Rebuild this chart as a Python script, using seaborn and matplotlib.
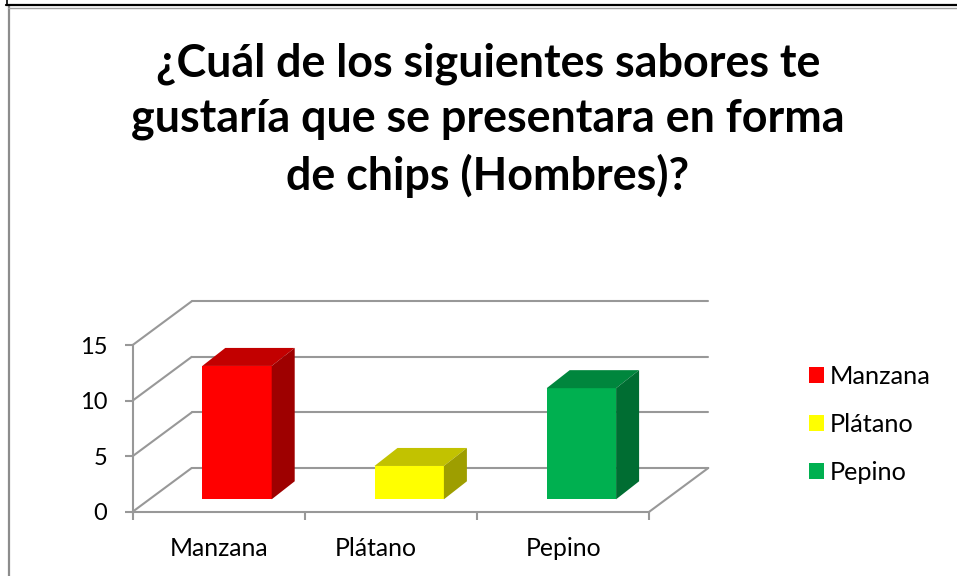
import matplotlib
matplotlib.use("Agg")
import matplotlib.pyplot as plt
from matplotlib.colors import to_rgb
from matplotlib.lines import Line2D
from matplotlib.patches import Polygon
import pandas as pd
import seaborn as sns

W, H = 957, 576

title = "¿Cuál de los siguientes sabores te\ngustaría que se presentara en forma\nde chips (Hombres)?"
sabores = ["Manzana", "Plátano", "Pepino"]
valores = [12, 3, 10]
colores = ["#FF0000", "#FFFF00", "#00B050"]
yticks = [0, 5, 10, 15]

GREY = "#989898"


def px_axes(fig, left, right, top, bottom):
    # axes position given in image pixels
    return fig.add_axes([left / W, 1 - bottom / H, (right - left) / W, (bottom - top) / H])


def shade(color, f):
    return tuple(c * f for c in to_rgb(color))


sns.set_theme(style="white")
plt.rcParams["font.family"] = ["Lato", "DejaVu Sans"]

fig = plt.figure(figsize=(W / 100, H / 100), dpi=100, facecolor="white")

# outer frame of the pasted chart
fig.add_artist(Line2D([8.5 / W, 8.5 / W], [0, 1 - 6 / H], color="#8c8c8c", lw=1.6))
fig.add_artist(Line2D([8 / W, 1], [1 - 7.5 / H, 1 - 7.5 / H], color="#a0a0a0", lw=1))
fig.add_artist(Line2D([6 / W, 1], [1 - 5 / H, 1 - 5 / H], color="black", lw=1.6))
fig.add_artist(Line2D([6.5 / W, 6.5 / W], [1 - 5 / H, 1], color="black", lw=1.2))

# front plane of the chart, carries the axes and ticks
ax = px_axes(fig, 132.7, 649.3, 345, 511.7)
ax.set_xlim(-0.5, 2.5)
ax.set_ylim(0, 15)
ax.patch.set_alpha(0)
for side in ["top", "right"]:
    ax.spines[side].set_visible(False)
for side in ["left", "bottom"]:
    ax.spines[side].set_color(GREY)
    ax.spines[side].set_linewidth(1.5)
ax.set_yticks(yticks)
ax.set_xticks([-0.5, 0.5, 1.5, 2.5])
ax.set_xticklabels([])
ax.set_xticks([0, 1 - 15 / 172.2, 2], labels=sabores, minor=True)
ax.tick_params(axis="both", which="major", direction="out", length=5.8, width=1.5,
               color=GREY, left=True, bottom=True)
ax.tick_params(axis="y", labelsize=17, labelcolor="black", pad=12.5)
ax.tick_params(axis="x", which="minor", length=0, labelsize=17.8, labelcolor="black", pad=18.5)

# walls: depth of the box in data units
wall_dx = 59 / 172.2
wall_dy = 43.7 / 11.11
line_kw = dict(color=GREY, lw=1.5, clip_on=False, zorder=1, solid_capstyle="round")
for v in yticks:
    ax.plot([-0.5, -0.5 + wall_dx], [v, v + wall_dy], **line_kw)
    ax.plot([-0.5 + wall_dx, 2.5 + wall_dx], [v + wall_dy, v + wall_dy], **line_kw)
ax.plot([2.5, 2.5 + wall_dx], [0, wall_dy], **line_kw)

# bars sit a little behind the front plane
ax_bars = px_axes(fig, 132.7 + 18.2, 649.3 + 18.2, 345 - 12.4, 511.7 - 12.4)
ax_bars.patch.set_alpha(0)
df = pd.DataFrame({"sabor": sabores, "valor": valores})
sns.barplot(data=df, x="sabor", y="valor", hue="sabor", palette=colores, order=sabores,
            hue_order=sabores, width=0.403, dodge=False, saturation=1, ax=ax_bars,
            legend=True, linewidth=0, zorder=3)
ax_bars.set_xlim(-0.5, 2.5)
ax_bars.set_ylim(0, 15)
ax_bars.axis("off")

bar_dx = 23 / 172.2
bar_dy = 18 / 11.11
for p, c in zip(ax_bars.patches, colores):
    x0, w, h = p.get_x(), p.get_width(), p.get_height()
    if h == 0:
        continue
    x1 = x0 + w
    ax_bars.add_patch(Polygon([(x0, h), (x1, h), (x1 + bar_dx, h + bar_dy), (x0 + bar_dx, h + bar_dy)],
                              color=shade(c, 0.76), lw=0, clip_on=False, zorder=3))
    ax_bars.add_patch(Polygon([(x1, 0), (x1 + bar_dx, bar_dy), (x1 + bar_dx, h + bar_dy), (x1, h)],
                              color=shade(c, 0.62), lw=0, clip_on=False, zorder=3))

handles, labels = ax_bars.get_legend_handles_labels()
ax_bars.get_legend().remove()
fig.legend(handles, labels, loc="center left", bbox_to_anchor=(786 / W, 1 - 424.5 / H),
           frameon=False, fontsize=18.2, handlelength=0.6, handleheight=0.6,
           handletextpad=0.24, labelspacing=0.98, labelcolor="black")

fig.suptitle(title, x=488 / W, y=1 - 120 / H, va="center", ha="center",
             fontsize=32.3, fontweight="bold", color="black", linespacing=1.37)

fig.savefig("out.png", dpi=100)
